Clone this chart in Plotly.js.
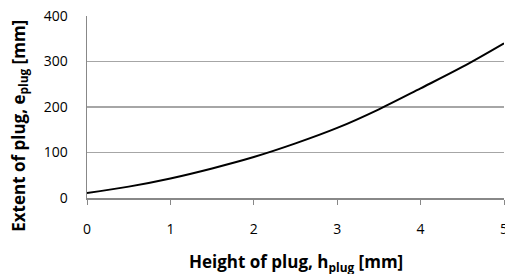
<!DOCTYPE html>
<html>
<head>
<meta charset="utf-8">
<script src="https://cdn.plot.ly/plotly-3.0.1.min.js"></script>
<style>html,body{margin:0;padding:0;background:#fff;}#chart{width:505px;height:274px;}</style>
</head>
<body>
<div id="chart"></div>
<script>
var heightPlug = [0, 0.5, 1, 1.5, 2, 2.5, 3, 3.5, 4, 4.5, 5];
var extentPlug = [11, 25, 43, 65, 90, 120, 154, 195, 241, 288, 340];
var xTicks = [0, 1, 2, 3, 4, 5];
var yTicks = [0, 100, 200, 300, 400];
var xTitle = 'Height of plug, h<sub>plug</sub> [mm]';
var yTitle = 'Extent of plug, e<sub>plug</sub> [mm]';

var font = '"Open Sans", sans-serif';
var trace = {
  x: heightPlug, y: extentPlug, type: 'scatter', mode: 'lines',
  line: {color: '#000', width: 2, shape: 'spline'}, hoverinfo: 'none'
};
var layout = {
  width: 505, height: 274,
  margin: {l: 87, r: 1, t: 16, b: 76},
  paper_bgcolor: '#fff', plot_bgcolor: '#fff',
  showlegend: false,
  font: {family: font, size: 14, color: '#000'},
  xaxis: {
    range: [0, 5], tickvals: xTicks, ticktext: xTicks.map(String),
    showgrid: false, zeroline: false,
    showline: true, linecolor: '#888', linewidth: 1.5,
    ticks: 'outside', ticklen: 5, tickcolor: '#888', tickwidth: 1,
    ticklabelstandoff: 13, ticklabeloverflow: 'allow',
    tickfont: {family: font, size: 14, color: '#000'}
  },
  yaxis: {
    range: [0, 400], tickvals: yTicks, ticktext: yTicks.map(String),
    showgrid: true, gridcolor: '#a6a6a6', gridwidth: 1.2, zeroline: false,
    showline: true, linecolor: '#888', linewidth: 1.5,
    ticks: '', ticklabelstandoff: 15, ticklabeloverflow: 'allow',
    tickfont: {family: font, size: 14, color: '#000'}
  },
  annotations: [
    {text: '<b>' + xTitle + '</b>', xref: 'paper', yref: 'paper',
     x: 0.5, y: -0.352, xanchor: 'center', yanchor: 'middle', showarrow: false,
     font: {family: font, size: 17, color: '#000'}},
    {text: '<b>' + yTitle + '</b>', xref: 'paper', yref: 'paper',
     x: -0.161, y: 0.396, xanchor: 'center', yanchor: 'middle', showarrow: false,
     textangle: -90, font: {family: font, size: 17, color: '#000'}}
  ]
};
Plotly.newPlot('chart', [trace], layout, {staticPlot: true, displayModeBar: false});
</script>
</body>
</html>
